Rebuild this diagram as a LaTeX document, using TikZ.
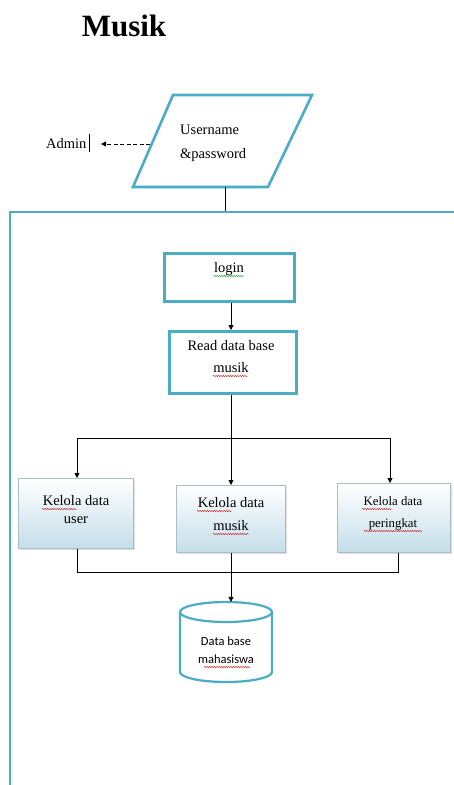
\documentclass[tikz,border=0pt]{standalone}
\usepackage{fontspec}
\setmainfont{Liberation Serif}
\newfontfamily\calib{Carlito}
\usetikzlibrary{arrows.meta,decorations.pathmorphing,shadows}
\definecolor{aqua}{RGB}{75,172,198}
\definecolor{boxbot}{RGB}{196,222,234}
\definecolor{boxedge}{RGB}{170,190,200}
\definecolor{squig}{RGB}{220,40,40}
\definecolor{squiggreen}{RGB}{40,160,60}
\tikzset{
  aquabox/.style={draw=aqua, line width=2.6pt, fill=white},
  gradbox/.style={draw=boxedge, line width=0.5pt, top color=white, bottom color=boxbot,
    drop shadow={shadow xshift=1.5pt, shadow yshift=-1.5pt, fill=black!25}},
  conn/.style={draw=black, line width=0.8pt},
  arr/.style={conn, -{Triangle[length=5pt,width=5pt]}},
  lbl/.style={font=\fontsize{14.5}{19}\selectfont, inner sep=0pt, anchor=base},
  small/.style={font=\fontsize{12.8}{19}\selectfont, inner sep=0pt, anchor=base},
  sans/.style={font=\calib\fontsize{12.5}{20}\selectfont, inner sep=0pt, anchor=base},
  wavy/.style={draw=squig, line width=0.45pt, decorate, decoration={snake, amplitude=0.7pt, segment length=2.4pt}},
}
\begin{document}
\begin{tikzpicture}[x=1pt,y=-1pt]
\useasboundingbox (0,0) rectangle (454,785);
% title
\node[anchor=base, inner sep=0pt, font=\fontsize{31}{36}\bfseries\selectfont] (title) at (124,36) {Musik};
% parallelogram
\draw[aquabox] (173,95) -- (312,95) -- (268,187) -- (133,187) -- cycle;
\coordinate (parbot) at (225,187);
\coordinate (parleft) at (150,144);
\node[lbl, anchor=base west] (user1) at (180,134) {Username};
\node[lbl, anchor=base west] (user2) at (180,158) {\&password};
\node[lbl, anchor=base west] (admin) at (46,148) {Admin};
\draw[line width=1.6pt] (89.5,134) -- (89.5,152);
\coordinate (admtip) at (101,144);
\draw[conn, dash pattern=on 4pt off 2.5pt, -{Triangle[length=5pt,width=5pt]}] (parleft) -- (admtip);
% big frame
\coordinate (frtl) at (10,212);
\coordinate (frtr) at (456,212);
\coordinate (frbl) at (10,787);
\draw[conn] (parbot) -- (225,212);
\draw[draw=aqua, line width=2.6pt] (frtr) -- (frtl) -- (frbl);
% login / read
\node[aquabox, minimum width=130pt, minimum height=48pt, anchor=north west] (login) at (163,252) {};
\node[lbl] (logintxt) at (229,272) {login};
\node[aquabox, minimum width=127pt, minimum height=62pt, anchor=north west] (read) at (168,330) {};
\node[lbl] (read1) at (231,350) {Read data base};
\node[lbl] (read2) at (231,372) {musik};
\draw[arr] (login.south -| 231,0) -- (read.north -| 231,0);
% distribution
\coordinate (split) at (231,438);
\coordinate (sl) at (77,438);
\coordinate (sr) at (390,438);
\draw[conn] (read.south -| split) -- (split);
\draw[conn] (sl) -- (sr);
% kelola boxes
\node[gradbox, minimum width=115pt, minimum height=70pt, anchor=north west] (k1) at (18,478) {};
\node[gradbox, minimum width=109pt, minimum height=67pt, anchor=north west] (k2) at (176,485) {};
\node[gradbox, minimum width=113pt, minimum height=69pt, anchor=north west] (k3) at (337,483) {};
\node[lbl] (k1a) at (76,505) {Kelola data};
\node[lbl] (k1b) at (76,523) {user};
\node[lbl] (k2a) at (231,507) {Kelola data};
\node[lbl] (k2b) at (231,530) {musik};
\node[small] (k3a) at (393,505) {Kelola data};
\node[small] (k3b) at (393,527) {peringkat};
\draw[arr] (sl) -- (k1.north -| sl);
\draw[arr] (split) -- (k2.north -| split);
\draw[arr] (sr) -- (k3.north -| sr);
% merge
\coordinate (ml) at (77,572);
\coordinate (mr) at (398,572);
\coordinate (mc) at (231,572);
\draw[conn] (k1.south -| ml) -- (ml) -- (mr) -- (k3.south -| mr);
% cylinder
\node[minimum width=92pt, minimum height=80pt, inner sep=0pt] (db) at (226,642) {};
\draw[draw=aqua, line width=2.2pt, fill=white]
  (180,612) -- (180,672) arc[start angle=180, end angle=360, x radius=46pt, y radius=10pt]
  -- (272,612) arc[start angle=0, end angle=180, x radius=46pt, y radius=10pt] -- cycle;
\draw[draw=aqua, line width=2.2pt] (180,612) arc[start angle=180, end angle=360, x radius=46pt, y radius=10pt];
\node[sans] (db1) at (226,645) {Data base};
\node[sans] (db2) at (226,663) {mahasiswa};
\draw[arr] (k2.south -| mc) -- (db.north -| mc);
% spell-check squiggles
\draw[wavy, draw=squiggreen] (214,276) -- (244,276);
\draw[wavy] (213,376) -- (248,376);
\draw[wavy] (42,509) -- (77,509);
\draw[wavy] (197,511) -- (232,511);
\draw[wavy] (213,534) -- (249,534);
\draw[wavy] (362,509) -- (392,509);
\draw[wavy] (364,531) -- (422,531);
\draw[wavy] (204,667) -- (250,667);
\end{tikzpicture}
\end{document}
